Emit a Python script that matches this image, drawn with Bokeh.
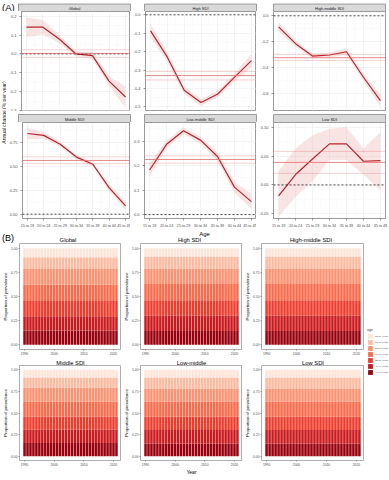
import math
from bokeh.plotting import figure
from bokeh.layouts import row, column
from bokeh.models import (Range1d, FixedTicker, NumeralTickFormatter, Span, Title,
                          BoxAnnotation, Label, Legend, LegendItem, ColumnDataSource)
from bokeh.embed import file_html
from bokeh.resources import INLINE

FONT = "Liberation Sans"

# ---------------- data: part A (annual change by age) ----------------
AGE_LABELS = ["15 to 19", "20 to 24", "25 to 29", "30 to 34", "35 to 39", "40 to 44", "45 to 49"]
AGE_POS = [1, 2, 3, 4, 5, 6, 7]

A_PANELS = ["Global", "High SDI", "High-middle SDI", "Middle SDI", "Low-middle SDI", "Low SDI"]

GLOBAL_EST = [0.142, 0.142, 0.078, 0.000, -0.009, -0.144, -0.228]
GLOBAL_LO = [0.090, 0.105, 0.055, -0.012, -0.025, -0.170, -0.285]
GLOBAL_HI = [0.195, 0.178, 0.100, 0.012, 0.008, -0.118, -0.172]

HIGH_EST = [-0.087, -0.230, -0.410, -0.476, -0.430, -0.338, -0.249]
HIGH_LO = [-0.125, -0.255, -0.430, -0.495, -0.448, -0.360, -0.285]
HIGH_HI = [-0.050, -0.205, -0.390, -0.457, -0.412, -0.316, -0.213]

HMID_EST = [-0.085, -0.214, -0.309, -0.301, -0.276, -0.472, -0.652]
HMID_LO = [-0.120, -0.235, -0.328, -0.320, -0.300, -0.500, -0.700]
HMID_HI = [-0.050, -0.193, -0.290, -0.282, -0.250, -0.444, -0.604]

MID_EST = [0.845, 0.825, 0.733, 0.598, 0.523, 0.275, 0.088]
MID_LO = [0.785, 0.790, 0.705, 0.575, 0.500, 0.240, 0.045]
MID_HI = [0.905, 0.860, 0.760, 0.620, 0.545, 0.310, 0.130]

LMID_EST = [0.182, 0.287, 0.342, 0.304, 0.237, 0.112, 0.053]
LMID_LO = [0.155, 0.272, 0.328, 0.290, 0.220, 0.090, 0.022]
LMID_HI = [0.209, 0.302, 0.356, 0.318, 0.254, 0.134, 0.084]

LOW_EST = [-0.019, 0.018, 0.045, 0.071, 0.071, 0.041, 0.042]
LOW_LO = [-0.055, -0.021, 0.007, 0.043, 0.043, 0.018, -0.010]
LOW_HI = [0.024, 0.063, 0.086, 0.097, 0.100, 0.063, 0.091]

# overall AAPC (estimate, lower, upper)
AAPC_GLOBAL = [0.003, -0.018, 0.022]
AAPC_HIGH = [-0.330, -0.354, -0.308]
AAPC_HMID = [-0.322, -0.343, -0.296]
AAPC_MID = [0.563, 0.530, 0.600]
AAPC_LMID = [0.225, 0.210, 0.240]
AAPC_LOW = [0.039, 0.020, 0.058]

# y axes of part A
YR_GLOBAL, YT_GLOBAL = [-0.305, 0.225], [-0.3, -0.2, -0.1, 0.0, 0.1, 0.2]
YR_HIGH, YT_HIGH = [-0.525, 0.018], [-0.5, -0.4, -0.3, -0.2, -0.1, 0.0]
YR_HMID, YT_HMID = [-0.735, 0.033], [-0.6, -0.4, -0.2, 0.0]
YR_MID, YT_MID = [-0.045, 0.96], [0.0, 0.25, 0.5, 0.75]
YR_LMID, YT_LMID = [-0.016, 0.376], [0.0, 0.1, 0.2, 0.3]
YR_LOW, YT_LOW = [-0.058, 0.108], [-0.05, 0.0, 0.05, 0.10]

# ---------------- data: part B (age composition of prevalence) ----------------
YEARS = list(range(1990, 2022))
AGE_GROUPS = ["15-19 years", "20-24 years", "25-29 years", "30-34 years",
              "35-39 years", "40-44 years", "45-49 years"]
REDS = ["#fee5d9", "#fcbba1", "#fc9272", "#fb6a4a", "#ef3b2c", "#cb181d", "#99000d"]
B_PANELS = ["Global", "High SDI", "High-middle SDI", "Middle SDI", "Low-middle", "Low SDI"]
# shares of prevalence by age group (15-19 ... 45-49)
SHARE_GLOBAL = [0.092, 0.123, 0.160, 0.171, 0.160, 0.147, 0.147]
SHARE_HIGH = [0.085, 0.125, 0.160, 0.170, 0.160, 0.157, 0.143]
SHARE_HMID = [0.086, 0.124, 0.160, 0.170, 0.160, 0.157, 0.143]
SHARE_MID = [0.089, 0.119, 0.161, 0.171, 0.153, 0.153, 0.154]
SHARE_LMID = [0.089, 0.127, 0.155, 0.172, 0.155, 0.154, 0.148]
SHARE_LOW = [0.089, 0.127, 0.155, 0.172, 0.155, 0.154, 0.148]

GRID_MAJOR = "#e6e6e6"
GRID_MINOR = "#f2f2f2"
BORDER = "#555555"
LINE_RED = "#b8232a"
HLINE_RED = "#e06a6a"
RIBBON = "#f2c4c4"
STRIP_FILL = "#d9d9d9"
STRIP_LINE = "#4d4d4d"


def base_fig(w, h, xr, yr, left=0, right=0, top=0, bottom=0, axes=True):
    kw = dict(width=w, height=h, x_range=Range1d(*xr), y_range=Range1d(*yr),
              output_backend="svg", toolbar_location=None, title=None,
              min_border_left=left, min_border_right=right,
              min_border_top=top, min_border_bottom=bottom)
    if not axes:
        kw.update(x_axis_location=None, y_axis_location=None)
    p = figure(**kw)
    p.background_fill_color = "white"
    p.border_fill_color = "white"
    if not axes:
        p.grid.visible = False
        p.outline_line_color = None
    return p


def style_axes(p, size):
    for ax in (p.xaxis[0], p.yaxis[0]):
        ax.major_label_text_font = FONT
        ax.major_label_text_font_size = size
        ax.major_label_text_color = "#4d4d4d"
        ax.major_label_standoff = 1
        ax.major_tick_out = 2
        ax.major_tick_in = 0
        ax.major_tick_line_color = "#333333"
        ax.major_tick_line_width = 0.5
        ax.minor_tick_line_color = None
        ax.axis_line_color = None
        ax.axis_label_text_font = FONT


def text(p, x, y, s, size, align="center", baseline="middle", angle=0, color="#1a1a1a"):
    p.add_layout(Label(x=x, y=y, text=s, text_font=FONT, text_font_size=size,
                       text_align=align, text_baseline=baseline, angle=angle,
                       text_color=color))


def a_panel(est, lo, hi, aapc, yr, yt, fmt, w, left, right, h, bottom, show_x):
    p = base_fig(w, h, (0.7, 7.3), yr, left=left, right=right, bottom=bottom)
    p.outline_line_color = BORDER
    p.outline_line_width = 0.6
    p.xaxis.ticker = FixedTicker(ticks=AGE_POS, minor_ticks=[a + 0.5 for a in AGE_POS[:-1]])
    ymin = [(yt[i] + yt[i + 1]) / 2 for i in range(len(yt) - 1)]
    step = yt[1] - yt[0]
    ymin += [yt[0] - step / 2, yt[-1] + step / 2]
    p.yaxis.ticker = FixedTicker(ticks=yt, minor_ticks=ymin)
    p.yaxis.formatter = NumeralTickFormatter(format=fmt)
    p.xaxis.major_label_overrides = {a: l for a, l in zip(AGE_POS, AGE_LABELS)}
    style_axes(p, "4px")
    p.xaxis.major_label_text_font_size = "3.7px"
    p.grid.grid_line_color = GRID_MAJOR
    p.grid.grid_line_width = 0.5
    p.grid.minor_grid_line_color = GRID_MINOR
    p.grid.minor_grid_line_width = 0.3
    if not show_x:
        p.xaxis.visible = False
    src = ColumnDataSource(dict(x=AGE_POS, est=est, lo=lo, hi=hi))
    p.varea(x="x", y1="lo", y2="hi", source=src, fill_color=RIBBON, fill_alpha=0.45)
    p.add_layout(Span(location=0, dimension="width", line_color="black",
                      line_dash="2 2", line_width=0.7))
    p.add_layout(Span(location=aapc[0], dimension="width", line_color=HLINE_RED,
                      line_width=0.8))
    for v in aapc[1:]:
        p.add_layout(Span(location=v, dimension="width", line_color=HLINE_RED,
                          line_dash="1 1", line_width=0.6))
    p.line(x="x", y="est", source=src, line_color=LINE_RED, line_width=1.2)
    return p


def b_panel(name, shares, w, left, h, bottom, title=False, xlabel=None):
    p = base_fig(w, h, (1988.3, 2022.7), (-0.05, 1.05), left=left, bottom=bottom)
    if title:
        p.add_layout(Title(text=name, align="center", text_font=FONT, text_font_size="5.8px",
                           text_font_style="normal", text_color="black", standoff=0,
                           offset=0), "above")
    p.outline_line_color = "#9a9a9a"
    p.outline_line_width = 0.8
    p.grid.visible = False
    data = {"year": YEARS}
    for g, s in zip(AGE_GROUPS, shares):
        data[g] = [s] * len(YEARS)
    src = ColumnDataSource(data)
    p.vbar_stack(AGE_GROUPS[::-1], x="year", width=0.85, source=src,
                 fill_color=REDS[::-1], line_color=None)
    p.xaxis.ticker = FixedTicker(ticks=[1990, 2000, 2010, 2020])
    p.yaxis.ticker = FixedTicker(ticks=[0, 0.25, 0.5, 0.75, 1.0])
    p.yaxis.formatter = NumeralTickFormatter(format="0.00")
    style_axes(p, "3.3px")
    for ax in (p.xaxis[0], p.yaxis[0]):
        ax.major_tick_out = 1
        ax.axis_label_text_font_style = "normal"
        ax.axis_label_text_color = "black"
        ax.axis_label_standoff = 0
    p.yaxis.axis_label = "Proportion of prevalence"
    p.yaxis.axis_label_text_font_size = "4.4px"
    if xlabel:
        p.xaxis.axis_label = xlabel
        p.xaxis.axis_label_text_font_size = "5px"
    return p


# ---------------- part A ----------------
A_EST = [GLOBAL_EST, HIGH_EST, HMID_EST, MID_EST, LMID_EST, LOW_EST]
A_LO = [GLOBAL_LO, HIGH_LO, HMID_LO, MID_LO, LMID_LO, LOW_LO]
A_HI = [GLOBAL_HI, HIGH_HI, HMID_HI, MID_HI, LMID_HI, LOW_HI]
A_AAPC = [AAPC_GLOBAL, AAPC_HIGH, AAPC_HMID, AAPC_MID, AAPC_LMID, AAPC_LOW]
A_YR = [YR_GLOBAL, YR_HIGH, YR_HMID, YR_MID, YR_LMID, YR_LOW]
A_YT = [YT_GLOBAL, YT_HIGH, YT_HMID, YT_MID, YT_LMID, YT_LOW]
A_FMT = ["0.0", "0.0", "0.0", "0.00", "0.0", "0.00"]

YLAB_W = 6
A_W = [124, 126, 132]
A_LEFT = [12, 14, 17]
A_RIGHT = [0, 0, 3]
FRAME_X = [(18, 130), (144, 256), (273, 385)]  # x of part A frames on the page

a_figs = []
for i in range(6):
    c = i % 3
    top_row = i < 3
    a_figs.append(a_panel(A_EST[i], A_LO[i], A_HI[i], A_AAPC[i], A_YR[i], A_YT[i], A_FMT[i],
                          A_W[c], A_LEFT[c], A_RIGHT[c],
                          100 if top_row else 108, 0 if top_row else 7, not top_row))

# facet strips
head_a = base_fig(388, 11, (0, 388), (0, 11), axes=False)
for c in range(3):
    x0, x1 = FRAME_X[c]
    head_a.add_layout(BoxAnnotation(left=x0, right=x1, bottom=0, top=8.5, fill_color=STRIP_FILL,
                                    fill_alpha=1, line_color=STRIP_LINE, line_alpha=1, line_width=0.5))
    text(head_a, (x0 + x1) / 2, 4.3, A_PANELS[c], "4px")
text(head_a, 1.5, 5.5, "(A)", "9.5px", align="left", color="black")

strip2 = base_fig(388 - YLAB_W, 11, (0, 388 - YLAB_W), (0, 11), axes=False)
for c in range(3):
    x0, x1 = FRAME_X[c][0] - YLAB_W, FRAME_X[c][1] - YLAB_W
    strip2.add_layout(BoxAnnotation(left=x0, right=x1, bottom=0, top=9, fill_color=STRIP_FILL,
                                    fill_alpha=1, line_color=STRIP_LINE, line_alpha=1, line_width=0.5))
    text(strip2, (x0 + x1) / 2, 4.5, A_PANELS[3 + c], "4px")

ylab = base_fig(YLAB_W, 219, (0, YLAB_W), (0, 219), axes=False)
text(ylab, 3.4, 118, "Annual change (% per year)", "5px", angle=math.pi / 2)

part_a = row(ylab, column(row(*a_figs[:3]), strip2, row(*a_figs[3:])))

# ---------------- part B ----------------
B_SHARES = [SHARE_GLOBAL, SHARE_HIGH, SHARE_HMID, SHARE_MID, SHARE_LMID, SHARE_LOW]
B_W = [121, 121, 122]
B_LEFT = [14, 15, 15]
B_FRAME_X = [(14, 121), (136, 242), (257, 364)]

b_figs = []
for i in range(6):
    c = i % 3
    if i < 3:
        b_figs.append(b_panel(B_PANELS[i], B_SHARES[i], B_W[c], B_LEFT[c], 114, 7))
    else:
        b_figs.append(b_panel(B_PANELS[i], B_SHARES[i], B_W[c], B_LEFT[c], 120, 12,
                              title=True, xlabel="Year" if c == 1 else None))

head_b1 = base_fig(388, 13, (0, 388), (0, 13), axes=False)
text(head_b1, 204, 9.5, "Age", "6px", color="black")
text(head_b1, 1.5, 5.2, "(B)", "9px", align="left", color="black")
for c in range(3):
    x0, x1 = B_FRAME_X[c]
    text(head_b1, (x0 + x1) / 2, 3.2, B_PANELS[c], "5.8px", color="black")

# legend panel
LEG_H = 234
leg = base_fig(24, LEG_H, (0, 24), (0, LEG_H), axes=False)
lsrc = ColumnDataSource({"year": YEARS, **{g: [s] * len(YEARS) for g, s in zip(AGE_GROUPS, SHARE_GLOBAL)}})
rends = leg.vbar_stack(AGE_GROUPS[::-1], x="year", width=0.85, source=lsrc,
                       fill_color=REDS[::-1], line_color=None)
items = [LegendItem(label=g, renderers=[r]) for g, r in zip(AGE_GROUPS, rends[::-1])]
legend = Legend(items=items, location=(3, 102), title="age",
                title_text_font=FONT, title_text_font_size="3.6px", title_standoff=1,
                title_text_font_style="normal",
                label_text_font=FONT, label_text_font_size="2.5px", label_standoff=2,
                glyph_width=6, glyph_height=6, label_height=6, label_width=10,
                spacing=0, padding=0, margin=0, border_line_color=None,
                background_fill_alpha=0)
leg.add_layout(legend)

part_b = row(column(row(*b_figs[:3]), row(*b_figs[3:])), leg)

layout = column(head_a, part_a, head_b1, part_b)

open("out.html", "w").write(file_html(layout, INLINE))
